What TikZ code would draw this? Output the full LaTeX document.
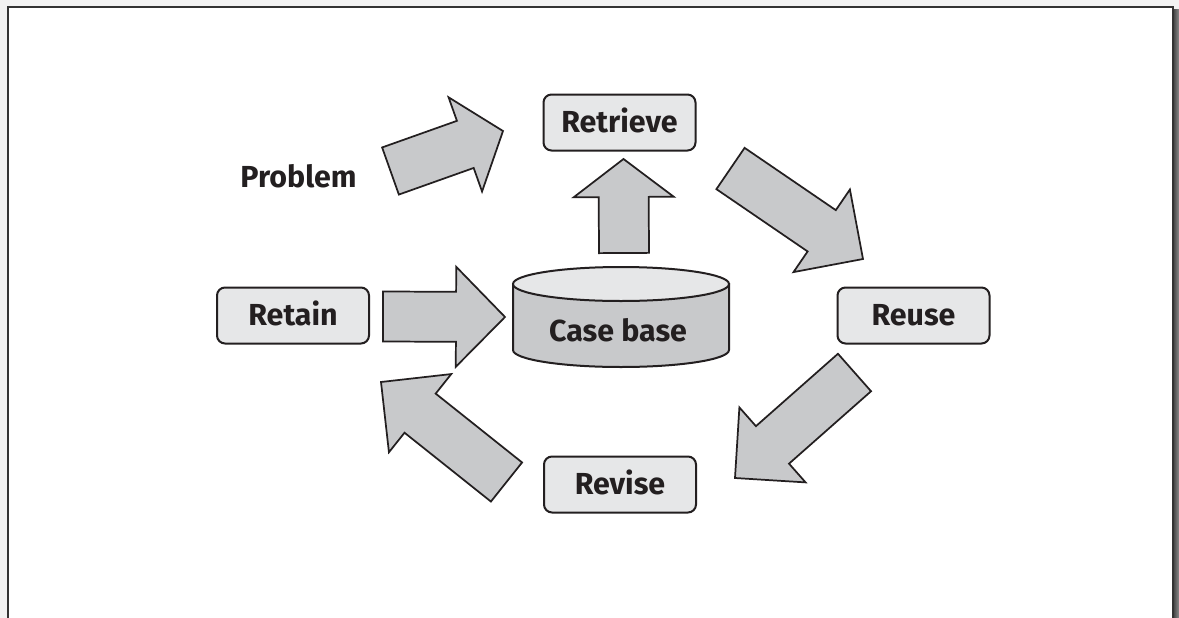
\documentclass[tikz,border=0pt]{standalone}
\usepackage{fontspec}
\setmainfont{Fira Sans}
\usetikzlibrary{calc}
\definecolor{boxfill}{HTML}{E6E7E8}
\definecolor{arrowfill}{HTML}{C8C9CB}
\definecolor{ink}{HTML}{231F20}

% Block arrow from a tail centre #1 to a tip #2, head length #3
\newcommand\blockarrow[3]{%
  \coordinate (#1-h) at ($(#2)!#3!(#1)$);
  \draw[blockarrow]
    ($(#1)!18.75pt!90:(#2)$) --
    ($(#1-h)!18.75pt!90:(#2)$) --
    ($(#1-h)!37.5pt!90:(#2)$) --
    (#2) --
    ($(#1-h)!37.5pt!-90:(#2)$) --
    ($(#1-h)!18.75pt!-90:(#2)$) --
    ($(#1)!18.75pt!-90:(#2)$) -- cycle;
}

\begin{document}
\begin{tikzpicture}[x=0.75pt,y=-0.75pt,
  labelfont/.style={font=\bfseries\fontsize{22.8}{27}\selectfont, text=ink,
    text height=15.5pt, text depth=0pt},
  stepbox/.style={labelfont, draw=ink, line width=1.5pt, fill=boxfill,
    rounded corners=6pt, minimum width=114pt, minimum height=42pt, inner sep=0pt},
  plainlabel/.style={labelfont, inner sep=0pt},
  blockarrow/.style={draw=ink, line width=1.3pt, fill=arrowfill, line join=miter}
]
\useasboundingbox (0,0) rectangle (1179,618);

% page frame with its drop shadow
\fill[black!5] (0,0) rectangle (1179,618);
\fill[white] (8,6.5) rectangle (1172.5,618);
\shade[left color=black!75, right color=black!45] (1173,9) rectangle (1179,618);
\draw[line width=1.5pt, draw=black!80] (8,618) -- (8,6.5) -- (1172.5,6.5) -- (1172.5,618);

% case base cylinder
\filldraw[fill=arrowfill, draw=ink, line width=1.5pt]
  (513,284) -- (513,350) arc[start angle=180, end angle=0, x radius=108, y radius=17]
  -- (729,284) -- cycle;
\filldraw[fill=boxfill, draw=ink, line width=1.5pt]
  (621,284) ellipse [x radius=108, y radius=17];
\node[plainlabel] (casebase) at (618,331) {Case base};

% process steps
\node[stepbox] (retrieve) at (619.5,122.5) {Retrieve};
\node[stepbox] (reuse)    at (913.5,315.5) {Reuse};
\node[stepbox] (revise)   at (620,484.5)   {Revise};
\node[stepbox] (retain)   at (293,315.5)   {Retain};
\node[plainlabel] (problem) at (298.5,177.5) {Problem};

% arrow end points
\coordinate (pa) at (390.5,171);   \coordinate (pb) at (503,131);
\coordinate (ua) at (624,253);     \coordinate (ub) at (623.5,159);
\coordinate (ra) at (730.5,168.5); \coordinate (rb) at (863,259);
\coordinate (sa) at (854.5,372.5); \coordinate (sb) at (735,478);
\coordinate (va) at (506.5,482);   \coordinate (vb) at (381,382);
\coordinate (ta) at (383,316.5);   \coordinate (tb) at (505,317);

\blockarrow{pa}{pb}{30pt}
\blockarrow{ua}{ub}{28.5pt}
\blockarrow{ra}{rb}{37.5pt}
\blockarrow{sa}{sb}{37.5pt}
\blockarrow{va}{vb}{37.5pt}
\blockarrow{ta}{tb}{36.75pt}
\end{tikzpicture}
\end{document}
